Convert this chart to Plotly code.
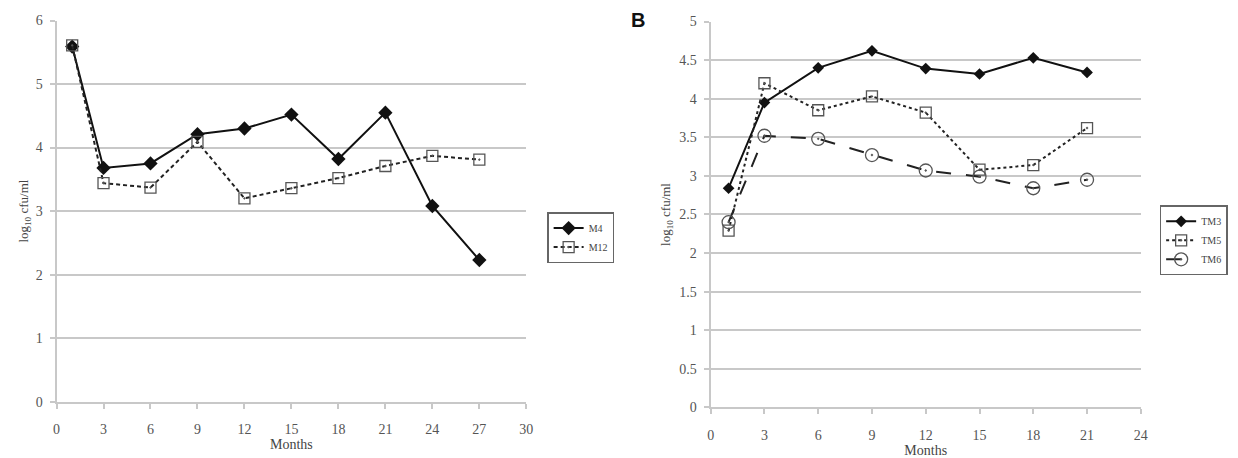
import plotly.graph_objects as go

# Panel A data
months_a = [1, 3, 6, 9, 12, 15, 18, 21, 24, 27]
m4 = [5.59, 3.68, 3.75, 4.21, 4.30, 4.52, 3.82, 4.55, 3.08, 2.23]
m12 = [5.61, 3.44, 3.37, 4.09, 3.20, 3.36, 3.52, 3.71, 3.87, 3.81]

# Panel B data
months_b = [1, 3, 6, 9, 12, 15, 18, 21]
tm3 = [2.84, 3.95, 4.40, 4.62, 4.39, 4.32, 4.53, 4.34]
tm5 = [2.29, 4.20, 3.85, 4.03, 3.82, 3.08, 3.14, 3.62]
tm6 = [2.40, 3.52, 3.48, 3.27, 3.07, 2.99, 2.84, 2.95]

FONT = "Liberation Serif"
GRID = "#c8c8c8"

fig = go.Figure()

fig.add_trace(go.Scatter(x=months_a, y=m4, name="M4", mode="lines+markers",
                         line=dict(color="#111", width=2),
                         marker=dict(symbol="diamond", size=11, color="#111"),
                         xaxis="x", yaxis="y", legend="legend"))
fig.add_trace(go.Scatter(x=months_a, y=m12, name="M12", mode="lines+markers",
                         line=dict(color="#222", width=2, dash="4px,3px"),
                         marker=dict(symbol="square-open-dot", size=11, color="#555",
                                     line=dict(width=1.3)),
                         xaxis="x", yaxis="y", legend="legend"))

fig.add_trace(go.Scatter(x=months_b, y=tm3, name="TM3", mode="lines+markers",
                         line=dict(color="#111", width=2),
                         marker=dict(symbol="diamond", size=9, color="#111"),
                         xaxis="x2", yaxis="y2", legend="legend2"))
fig.add_trace(go.Scatter(x=months_b, y=tm5, name="TM5", mode="lines+markers",
                         line=dict(color="#222", width=2, dash="3px,3px"),
                         marker=dict(symbol="square-open-dot", size=11, color="#555",
                                     line=dict(width=1.3)),
                         xaxis="x2", yaxis="y2", legend="legend2"))
fig.add_trace(go.Scatter(x=months_b, y=tm6, name="TM6", mode="lines+markers",
                         line=dict(color="#222", width=2, dash="longdash"),
                         marker=dict(symbol="circle-open-dot", size=13, color="#555",
                                     line=dict(width=1.3)),
                         xaxis="x2", yaxis="y2", legend="legend2"))

axis_common = dict(showline=True, linecolor=GRID, linewidth=2, ticks="outside",
                   tickcolor=GRID, ticklen=5, tickwidth=1.5,
                   tickfont=dict(family=FONT, size=14, color="#555"), zeroline=False)

xt = dict(family=FONT, size=14, color="#444")
yt = dict(family=FONT, size=13, color="#444")

fig.update_layout(
    width=1238, height=458,
    margin=dict(l=0, r=0, t=0, b=0),
    paper_bgcolor="white", plot_bgcolor="white",
    font=dict(family=FONT, color="#444"),
    xaxis=dict(domain=[53/1238, 527/1238], range=[0, 30], tickvals=list(range(0, 31, 3)),
               showgrid=False, anchor="y", ticklabelstandoff=9,
               title=dict(text="Months", font=xt, standoff=3),
               **axis_common),
    yaxis=dict(domain=[1-408/458, 1-14/458], range=[0, 6], dtick=1,
               showgrid=True, gridcolor=GRID, gridwidth=2, anchor="x", ticklabelstandoff=4,
               title=dict(text="log<sub>10</sub> cfu/ml", font=yt, standoff=4),
               **axis_common),
    xaxis2=dict(domain=[713/1238, 1147/1238], range=[0, 24], tickvals=list(range(0, 25, 3)),
                showgrid=False, anchor="y2", ticklabelstandoff=9,
                title=dict(text="Months", font=xt, standoff=3),
                **axis_common),
    yaxis2=dict(domain=[1-414/458, 1-15/458], range=[0, 5], dtick=0.5,
                showgrid=True, gridcolor=GRID, gridwidth=2, anchor="x2", ticklabelstandoff=4,
                title=dict(text="log<sub>10</sub> cfu/ml", font=yt, standoff=6),
                **axis_common),
    legend=dict(x=548/1238, y=1-212/458, xanchor="left", yanchor="top",
                bordercolor="#666", borderwidth=1.5, bgcolor="white",
                font=dict(family=FONT, size=10, color="#444"), itemwidth=30),
    legend2=dict(x=1166/1238, y=1-205/458, xanchor="left", yanchor="top",
                 bordercolor="#666", borderwidth=1.5, bgcolor="white",
                 font=dict(family=FONT, size=10, color="#444"), itemwidth=30),
    annotations=[dict(text="<b>B</b>", x=640/1238, y=1-13/458, xref="paper", yref="paper",
                      showarrow=False, font=dict(family="Liberation Sans", size=20, color="#111"),
                      xanchor="center", yanchor="middle")],
)

fig.write_html("out.html")
